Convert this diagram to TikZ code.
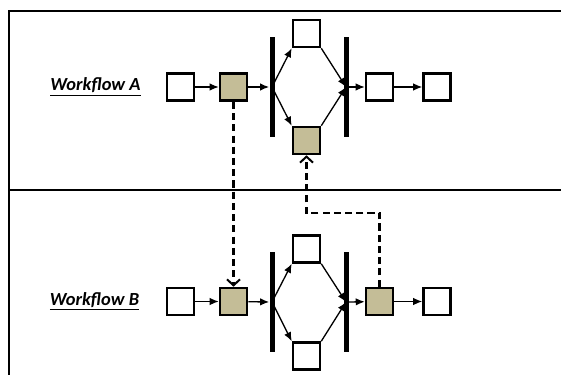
\documentclass[tikz,border=0pt]{standalone}
\usepackage{fontspec}
\setmainfont{Carlito}
\usetikzlibrary{arrows.meta}
\definecolor{tan}{RGB}{196,189,151}
\begin{document}
\begin{tikzpicture}[x=0.02cm,y=-0.02cm,
    task/.style={draw,line width=1.45pt,minimum size=0.54cm,inner sep=0pt,fill=white},
    hit/.style={task,fill=tan},
    bar/.style={fill=black,inner sep=0pt,minimum width=0.1cm,minimum height=2cm},
    flow/.style={line width=0.75pt,-{Latex[length=1.8mm,width=1.5mm]}},
    link/.style={line width=1.15pt,dash pattern=on 4pt off 2.4pt,-{Straight Barb[length=1.2mm,width=2.6mm]}},
    label/.style={font=\fontsize{10.5}{12}\selectfont\bfseries\itshape}]
  \useasboundingbox (0,0) rectangle (561,375);
  \draw[line width=1.1pt] (9,375) -- (9,11) -- (561,11);
  \draw[line width=0.7pt] (9,190) -- (561,190);

  \node[label] (la) at (95.5,87) {\underline{Workflow A}};
  \node[task] (a1) at (180.5,87) {};
  \node[hit] (a2) at (233.5,87) {};
  \node[bar] (abar1) at (272,87) {};
  \node[task] (aup) at (306.5,33.5) {};
  \node[hit] (adown) at (306.5,140.5) {};
  \node[bar] (abar2) at (346,87) {};
  \node[task] (a5) at (379.5,87) {};
  \node[task] (a6) at (437,87) {};
  \draw[flow] (a1) -- (a2);
  \draw[flow] (a2) -- (abar1.west);
  \draw[flow] (abar1.center) -- (aup.south west);
  \draw[flow] (abar1.center) -- (adown.north west);
  \draw[flow] (aup.south east) -- (abar2.center);
  \draw[flow] (adown.north east) -- (abar2.center);
  \draw[flow] (abar2.east) -- (a5);
  \draw[flow] (a5) -- (a6);

  \node[label] (lb) at (94.5,301.5) {\underline{Workflow B}};
  \node[task] (b1) at (180.5,301.5) {};
  \node[hit] (b2) at (233.5,301.5) {};
  \node[bar] (bbar1) at (272,302) {};
  \node[task] (bup) at (306.5,249) {};
  \node[task] (bdown) at (306.5,356) {};
  \node[bar] (bbar2) at (346,302) {};
  \node[hit] (b5) at (379.5,301.5) {};
  \node[task] (b6) at (437,301.5) {};
  \draw[flow] (b1) -- (b2);
  \draw[flow] (b2) -- (bbar1.west);
  \draw[flow] (bbar1.center) -- (bup.south west);
  \draw[flow] (bbar1.center) -- (bdown.north west);
  \draw[flow] (bup.south east) -- (bbar2.center);
  \draw[flow] (bdown.north east) -- (bbar2.center);
  \draw[flow] (bbar2.east) -- (b5);
  \draw[flow] (b5) -- (b6);

  \coordinate (turn) at (0,213);
  \draw[link] (a2.south) -- (b2.north);
  \draw[link] (b5.north) -- (b5.north |- turn) -| (adown.south);
\end{tikzpicture}
\end{document}
